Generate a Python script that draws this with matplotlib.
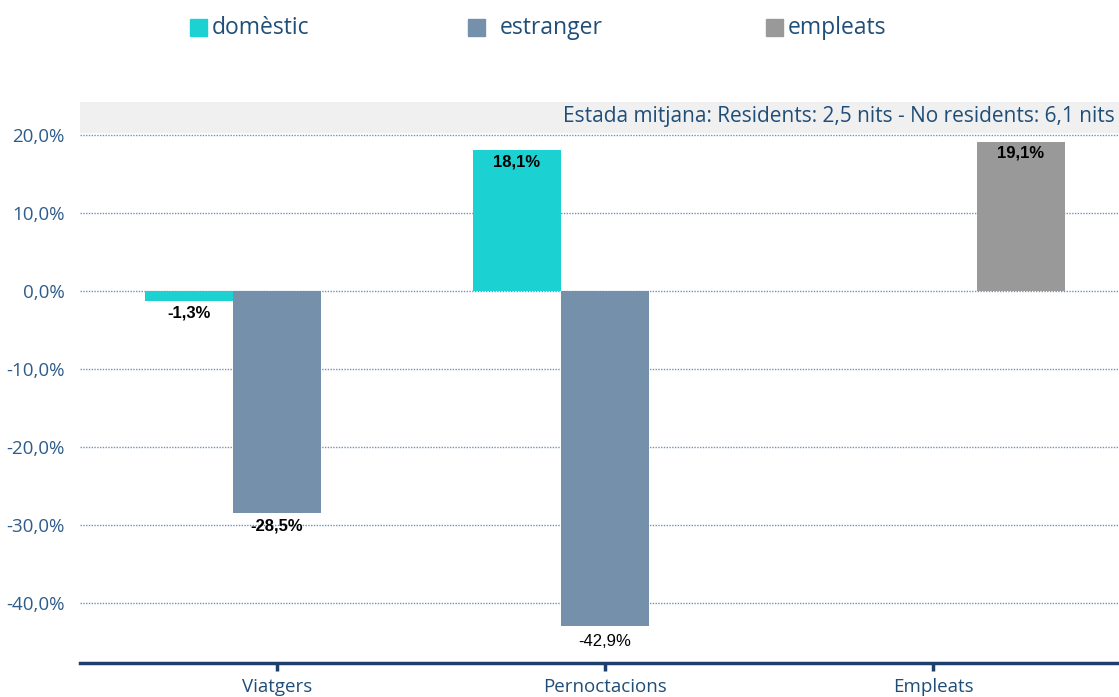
import numpy as np
import matplotlib
matplotlib.use("Agg")
import matplotlib.pyplot as plt
from matplotlib.patches import Rectangle

categories = ["Viatgers", "Pernoctacions", "Empleats"]
series_names = ["domèstic", "estranger", "empleats"]
domestic = [-1.3, 18.1, np.nan]
foreign = [-28.5, -42.9, np.nan]
employees = [np.nan, np.nan, 19.1]
colors = ["#1bd1d1", "#7590aa", "#999999"]
note = "Estada mitjana: Residents: 2,5 nits - No residents: 6,1 nits"

text_blue = "#1f4e79"
W, H = 1119, 697

fig = plt.figure(figsize=(W / 100, H / 100), dpi=100)
ax = fig.add_axes([80 / W, 34 / H, 1 - 80 / W, (663 - 102) / H])

x = np.arange(len(categories))
w = 0.268
series = [domestic, foreign, employees]
offsets = [-1, 0, 1]
for vals, off, c, name in zip(series, offsets, colors, series_names):
    ax.bar(x + off * w, vals, width=w, color=c, label=name, zorder=3)

ax.set_xlim(-0.6, 2.567)
ax.set_ylim(-47.7, 24.2)

# shaded note band
ax.axhspan(20.35, 24.2, color="#f0f0f0", zorder=0)
ax.text(2.555, 22.3, note, ha="right", va="center", fontsize=15,
        color=text_blue, family="Open Sans")

yt = [20, 10, 0, -10, -20, -30, -40]
ax.set_yticks(yt)
ax.set_yticklabels([f"{v:.1f}%".replace(".", ",") for v in yt],
                   fontsize=13.5, color="#2e5c8a", family="Open Sans")
ax.yaxis.grid(True, linestyle=(0, (1, 1)), color="#6f93bf", linewidth=1, zorder=1)
ax.tick_params(axis="y", length=0, pad=11)

ax.set_xticks(x)
ax.set_xticklabels(categories, fontsize=13.5, color=text_blue, family="Open Sans")
ax.tick_params(axis="x", length=6, width=2.5, color="#1f3e6e", direction="out", pad=5)

for s in ["top", "right", "left"]:
    ax.spines[s].set_visible(False)
ax.spines["bottom"].set_color("#1f3e6e")
ax.spines["bottom"].set_linewidth(2.5)


# data labels
def lab(xp, y, txt, weight="bold"):
    ax.text(xp, y, txt, ha="center", va="center", fontsize=12, fontweight=weight,
            family="Liberation Sans", color="black", zorder=4)


lab(x[0] - w, -2.8, "-1,3%")
lab(x[0], -30.1, "-28,5%")
lab(x[1] - w, 16.5, "18,1%")
lab(x[1], -45.0, "-42,9%", weight="normal")
lab(x[2] + w, 17.6, "19,1%")

# legend (drawn by hand to match spacing)
leg_marker_x = [190, 468, 766]
leg_text_x = [212, 500, 788]
for mx, tx, c, name in zip(leg_marker_x, leg_text_x, colors, series_names):
    fig.patches.append(Rectangle((mx / W, 1 - 36 / H), 17 / W, 17 / H,
                                 transform=fig.transFigure, color=c))
    fig.text(tx / W, 1 - 28 / H, name, ha="left", va="center", fontsize=16.5,
             color=text_blue, family="Open Sans")

fig.savefig("out.png", dpi=100)
